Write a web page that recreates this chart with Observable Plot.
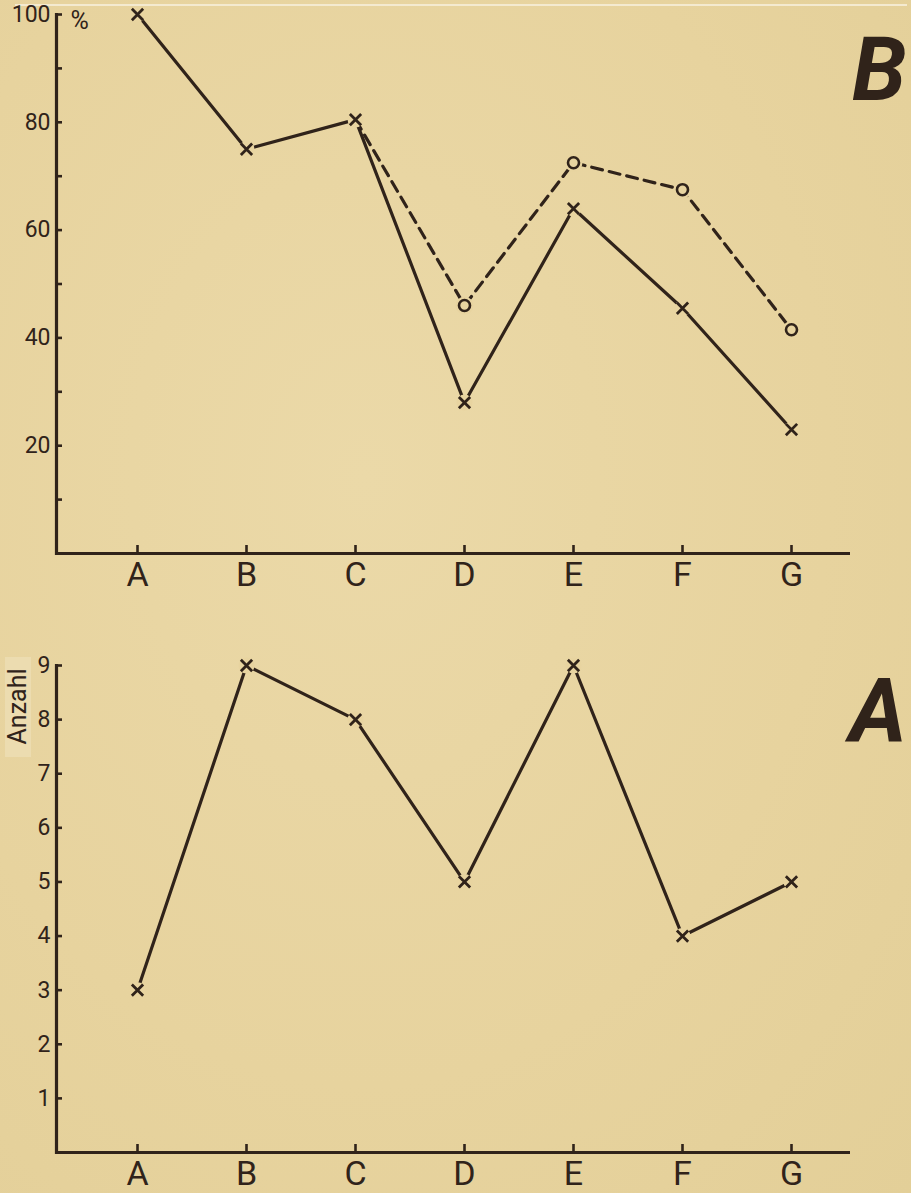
<!DOCTYPE html>
<html>
<head>
<meta charset="utf-8">
<script src="https://cdn.jsdelivr.net/npm/d3@7"></script>
<script src="https://cdn.jsdelivr.net/npm/@observablehq/plot@0.6"></script>
<style>
  html, body { margin: 0; padding: 0; background: #e8d4a0; }
  #wrap { position: relative; width: 911px; height: 1193px; overflow: hidden;
          background: radial-gradient(ellipse at 40% 40%, #ebd9a8 0%, #e7d39e 60%, #e3cf98 100%); }
  #edge { position: absolute; left: 15px; top: 4px; width: 892px; height: 2px; background: #f4ead0; }
  #labelbox { position: absolute; left: 5px; top: 657px; width: 26px; height: 100px; background: #ecdcb0; }
  #wrap svg { position: relative; display: block; }
</style>
</head>
<body>
<div id="wrap"><div id="edge"></div><div id="labelbox"></div></div>
<script>
const categories = ["A", "B", "C", "D", "E", "F", "G"];
// top panel (B): percentages
const pctSolid = [100, 75, 80.5, 28, 64, 45.5, 23];
const dashedCategories = ["C", "D", "E", "F", "G"];
const pctDashed = [80.5, 46, 72.5, 67.5, 41.5];
const pctTicks = [10, 20, 30, 40, 50, 60, 70, 80, 90, 100];
const pctLabels = [20, 40, 60, 80, 100];
// bottom panel (A): counts
const counts = [3, 9, 8, 5, 9, 4, 5];
const countTicks = [1, 2, 3, 4, 5, 6, 7, 8, 9];

const ink = "#30231a";
const bg = "#e8d4a0";
const font = "Roboto";

const solidData = categories.map((c, i) => ({cat: c, v: pctSolid[i]}));
const dashedData = dashedCategories.map((c, i) => ({cat: c, v: pctDashed[i]}));
const circleData = dashedData.slice(1);
const countData = categories.map((c, i) => ({cat: c, v: counts[i]}));

const xScale = {type: "point", domain: categories, padding: 0.64, align: 0.58};

function baseMarks(ticks, labels) {
  return [
    Plot.frame({anchor: "left", stroke: ink, strokeWidth: 3.2}),
    Plot.ruleY([0], {stroke: ink, strokeWidth: 3.2}),
    Plot.axisY({ticks: ticks, tickSize: -6, text: null, stroke: ink, strokeWidth: 2.6, label: null}),
    Plot.axisY({ticks: labels, tickSize: 0, tickPadding: 6, fontSize: 23, fill: ink, label: null, tickFormat: d => String(d)}),
    Plot.axisX({tickSize: -8, text: null, stroke: ink, strokeWidth: 2.6, label: null}),
    Plot.axisX({tickSize: 0, tickPadding: 8, fontSize: 34, fill: ink, label: null})
  ];
}

const chartB = Plot.plot({
  width: 911, height: 600,
  marginTop: 14, marginBottom: 47, marginLeft: 56, marginRight: 61,
  style: {background: "transparent", fontFamily: font, color: ink, overflow: "visible"},
  x: xScale,
  y: {domain: [0, 100]},
  marks: [
    ...baseMarks(pctTicks, pctLabels),
    Plot.line(solidData, {x: "cat", y: "v", stroke: ink, strokeWidth: 3.2}),
    Plot.line(dashedData, {x: "cat", y: "v", stroke: ink, strokeWidth: 3.2, strokeDasharray: "11,7"}),
    Plot.dot(solidData, {x: "cat", y: "v", r: 8, fill: bg, stroke: null}),
    Plot.dot(circleData, {x: "cat", y: "v", r: 9, fill: bg, stroke: null}),
    Plot.dot(solidData, {x: "cat", y: "v", symbol: "times", r: 5.2, stroke: ink, strokeWidth: 2.8}),
    Plot.dot(circleData, {x: "cat", y: "v", r: 5.5, fill: bg, stroke: ink, strokeWidth: 2.6}),
    Plot.text(["%"], {frameAnchor: "top-left", dx: 14, dy: 6, textAnchor: "start", lineAnchor: "middle", fontSize: 25, fill: ink}),
    Plot.text(["B"], {frameAnchor: "top-right", dx: 56, dy: 23, textAnchor: "end", lineAnchor: "top", fontSize: 88, fontWeight: "bold", fontStyle: "italic", fill: ink})
  ]
});

const chartA = Plot.plot({
  width: 911, height: 593,
  marginTop: 65, marginBottom: 41, marginLeft: 56, marginRight: 61,
  style: {background: "transparent", fontFamily: font, color: ink, overflow: "visible"},
  x: xScale,
  y: {domain: [0, 9]},
  marks: [
    ...baseMarks(countTicks, countTicks),
    Plot.line(countData, {x: "cat", y: "v", stroke: ink, strokeWidth: 3.2}),
    Plot.dot(countData, {x: "cat", y: "v", r: 8, fill: bg, stroke: null}),
    Plot.dot(countData, {x: "cat", y: "v", symbol: "times", r: 5.2, stroke: ink, strokeWidth: 2.8}),
    Plot.text(["Anzahl"], {frameAnchor: "top-left", dx: -39, dy: 41, rotate: -90, textAnchor: "middle", lineAnchor: "middle", fontSize: 25, fill: ink}),
    Plot.text(["A"], {frameAnchor: "top-right", dx: 56, dy: 13, textAnchor: "end", lineAnchor: "top", fontSize: 88, fontWeight: "bold", fontStyle: "italic", fill: ink})
  ]
});

const wrap = document.getElementById("wrap");
wrap.appendChild(chartB);
wrap.appendChild(chartA);
</script>
</body>
</html>
